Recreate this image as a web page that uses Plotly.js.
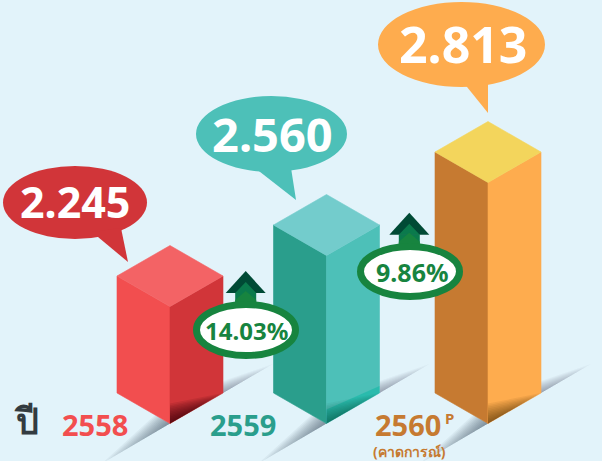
<!DOCTYPE html>
<html>
<head>
<meta charset="utf-8">
<script src="https://cdn.plot.ly/plotly-3.0.1.min.js"></script>
<style>html,body{margin:0;padding:0;background:#e2f3fa;overflow:hidden}</style>
</head>
<body>
<div id="chart" style="width:602px;height:461px"></div>
<script>
// ---- data ----
const years = ["2558", "2559", "2560"];
const valueLabels = ["2.245", "2.560", "2.813"];
const drawnHeights = [117, 168, 241];   // bar heights as drawn (not proportional in the source)
const growthLabels = ["14.03%", "9.86%"];
const yearNote = "(คาดการณ์)";
const yearPrefix = "ปี";

// ---- styles ----
const BG = "#e2f3fa";
const FONT = "'Noto Sans', 'Open Sans', sans-serif";
const THAI = "'Noto Sans', 'DejaVu Sans', sans-serif";
const faces = [
  {l:"#f24e4f", r:"#d13539", t:"#f36365", dark:"#3a0008", darkOp:0.10, text:"#f24e4f"},
  {l:"#2a9e8c", r:"#4dc0b8", t:"#73cccc", dark:"#00352d", darkOp:0.05, text:"#2a9e8c", glow:"#00b5a0"},
  {l:"#c67a31", r:"#feac4e", t:"#f3d55c", dark:"#4a2500", darkOp:0.07, text:"#c67a31"}
];

// ---- isometric layout of the chart (y axis: 0 = base line, up = drawn height) ----
const slot = [170, 326.5, 488];
const HW = 53, RISE = 30.5;
const Y = px => 393 - px;     // convert a frame row into the axis unit

const traces = [];
function poly(xs, ys, color, opacity) {
  const solid = opacity === undefined;
  traces.push({type:"scatter", mode:"lines", x:[...xs, xs[0]], y:[...ys, ys[0]], fill:"toself",
    fillcolor:color, line:{width:solid ? 0.6 : 0, color:color}, opacity:solid ? 1 : opacity,
    hoverinfo:"skip", showlegend:false});
}
const LAYERS = 12;
years.forEach((yr, i) => {
  const c = slot[i];
  // cast shadow towards lower-left
  for (let k = 1; k <= LAYERS; k++) {
    const f = k / LAYERS;
    poly([c, c - 68*f, c - 15*f], [-RISE, -RISE - 40*f, -RISE + 8.5*f], "#2c3a40", 0.055);
  }
  // cast shadow towards upper-right
  for (let k = 1; k <= LAYERS; k++) {
    const f = k / LAYERS;
    poly([c + HW, c + HW + 50*f, c + HW], [0, 29*f, 12*f], "#2c3a40", 0.04);
  }
});
years.forEach((yr, i) => {
  const c = slot[i], h = drawnHeights[i], st = faces[i];
  poly([c - HW, c, c, c - HW], [0, -RISE, h - RISE, h], st.l);
  poly([c + HW, c, c, c + HW], [0, -RISE, h - RISE, h], st.r);
  poly([c - HW, c, c + HW, c], [h, h + RISE, h, h - RISE], st.t);
  if (st.glow) poly([c, c + HW, c + HW, c], [-RISE, 0, 7, -RISE + 14], st.glow, 0.45);
  // darkening on the lower edge of the right face
  for (let k = 1; k <= LAYERS; k++) {
    const f = k / LAYERS;
    poly([c, c + HW*(0.3 + 0.7*f), c], [-RISE, -RISE + RISE*(0.3 + 0.7*f), -RISE + 20*f], st.dark, st.darkOp);
  }
});

// ---- speech bubbles, growth badges ----
const shapes = [];
function ell(x0, x1, py0, py1, fill, line, w) {
  shapes.push({type:"circle", xref:"x", yref:"y", x0, x1, y0:Y(py0), y1:Y(py1),
    fillcolor:fill, line:{color:line||fill, width:w||0}});
}
function path(pts, fill) {
  const d = "M" + pts.map(p => p[0] + "," + Y(p[1])).join("L") + "Z";
  shapes.push({type:"path", xref:"x", yref:"y", path:d, fillcolor:fill, line:{width:0}});
}
ell(3, 147, 166, 239, faces[0].r);
path([[92,232],[128,262],[121,228]], faces[0].r);
ell(196, 347, 96, 172, faces[1].r);
path([[255,168],[296,200],[291,168]], faces[1].r);
ell(378, 545, 2, 87, faces[2].r);
path([[463,82],[488,113],[488,82]], faces[2].r);

function arrow(cx, top) {
  path([[cx-10.5,top+22],[cx+10.5,top+22],[cx+10.5,top+36],[cx-10.5,top+36]], "#0a7a4c");
  path([[cx,top],[cx+20,top+22],[cx-20,top+22]], "#004a35");
  path([[cx,top+11],[cx+10.5,top+22],[cx-10.5,top+22]], "#0a7a4c");
  path([[cx,top+20],[cx+10.5,top+29],[cx+10.5,top+38],[cx-10.5,top+38],[cx-10.5,top+29]], "#17843f");
}
arrow(245.7, 271);
arrow(409.3, 212.7);
ell(196.5, 295.5, 304.5, 355.5, "#ffffff", "#17843f", 7);
ell(360.5, 459.5, 246.5, 296.5, "#ffffff", "#17843f", 7);

// ---- texts ----
const ann = [];
function label(text, x, py, size, color, family, weight) {
  ann.push({text, x, y:Y(py), xref:"x", yref:"y", showarrow:false, xanchor:"center", yanchor:"middle",
    font:{family:family||FONT, size, color, weight:weight||700}});
}
label(valueLabels[0], 75, 201, 43, "#ffffff");
label(valueLabels[1], 272, 134, 47, "#ffffff");
label(valueLabels[2], 463, 44, 50, "#ffffff");
label(growthLabels[0], 246.5, 330, 24, "#17843f");
label(growthLabels[1], 411.5, 272, 25, "#17843f");
label(years[0], 94.5, 424, 29, faces[0].text);
label(years[1], 243, 424, 29, faces[1].text);
label(years[2], 408, 424, 29, faces[2].text);
label("P", 449.5, 418, 15, faces[2].text);
label(yearNote, 409, 451.5, 14, faces[2].text, THAI, 700);
label(yearPrefix, 26, 420, 36, "#333b40", THAI, 700);

const hidden = {visible:false, fixedrange:true, zeroline:false, showgrid:false};
Plotly.newPlot("chart", traces, {
  width:602, height:461,
  margin:{l:0, r:0, t:0, b:0, pad:0},
  paper_bgcolor:BG, plot_bgcolor:BG,
  showlegend:false,
  xaxis:{...hidden, range:[0, 602]},
  yaxis:{...hidden, range:[-68, 393]},
  shapes, annotations:ann
}, {displayModeBar:false, staticPlot:true});
</script>
</body>
</html>
